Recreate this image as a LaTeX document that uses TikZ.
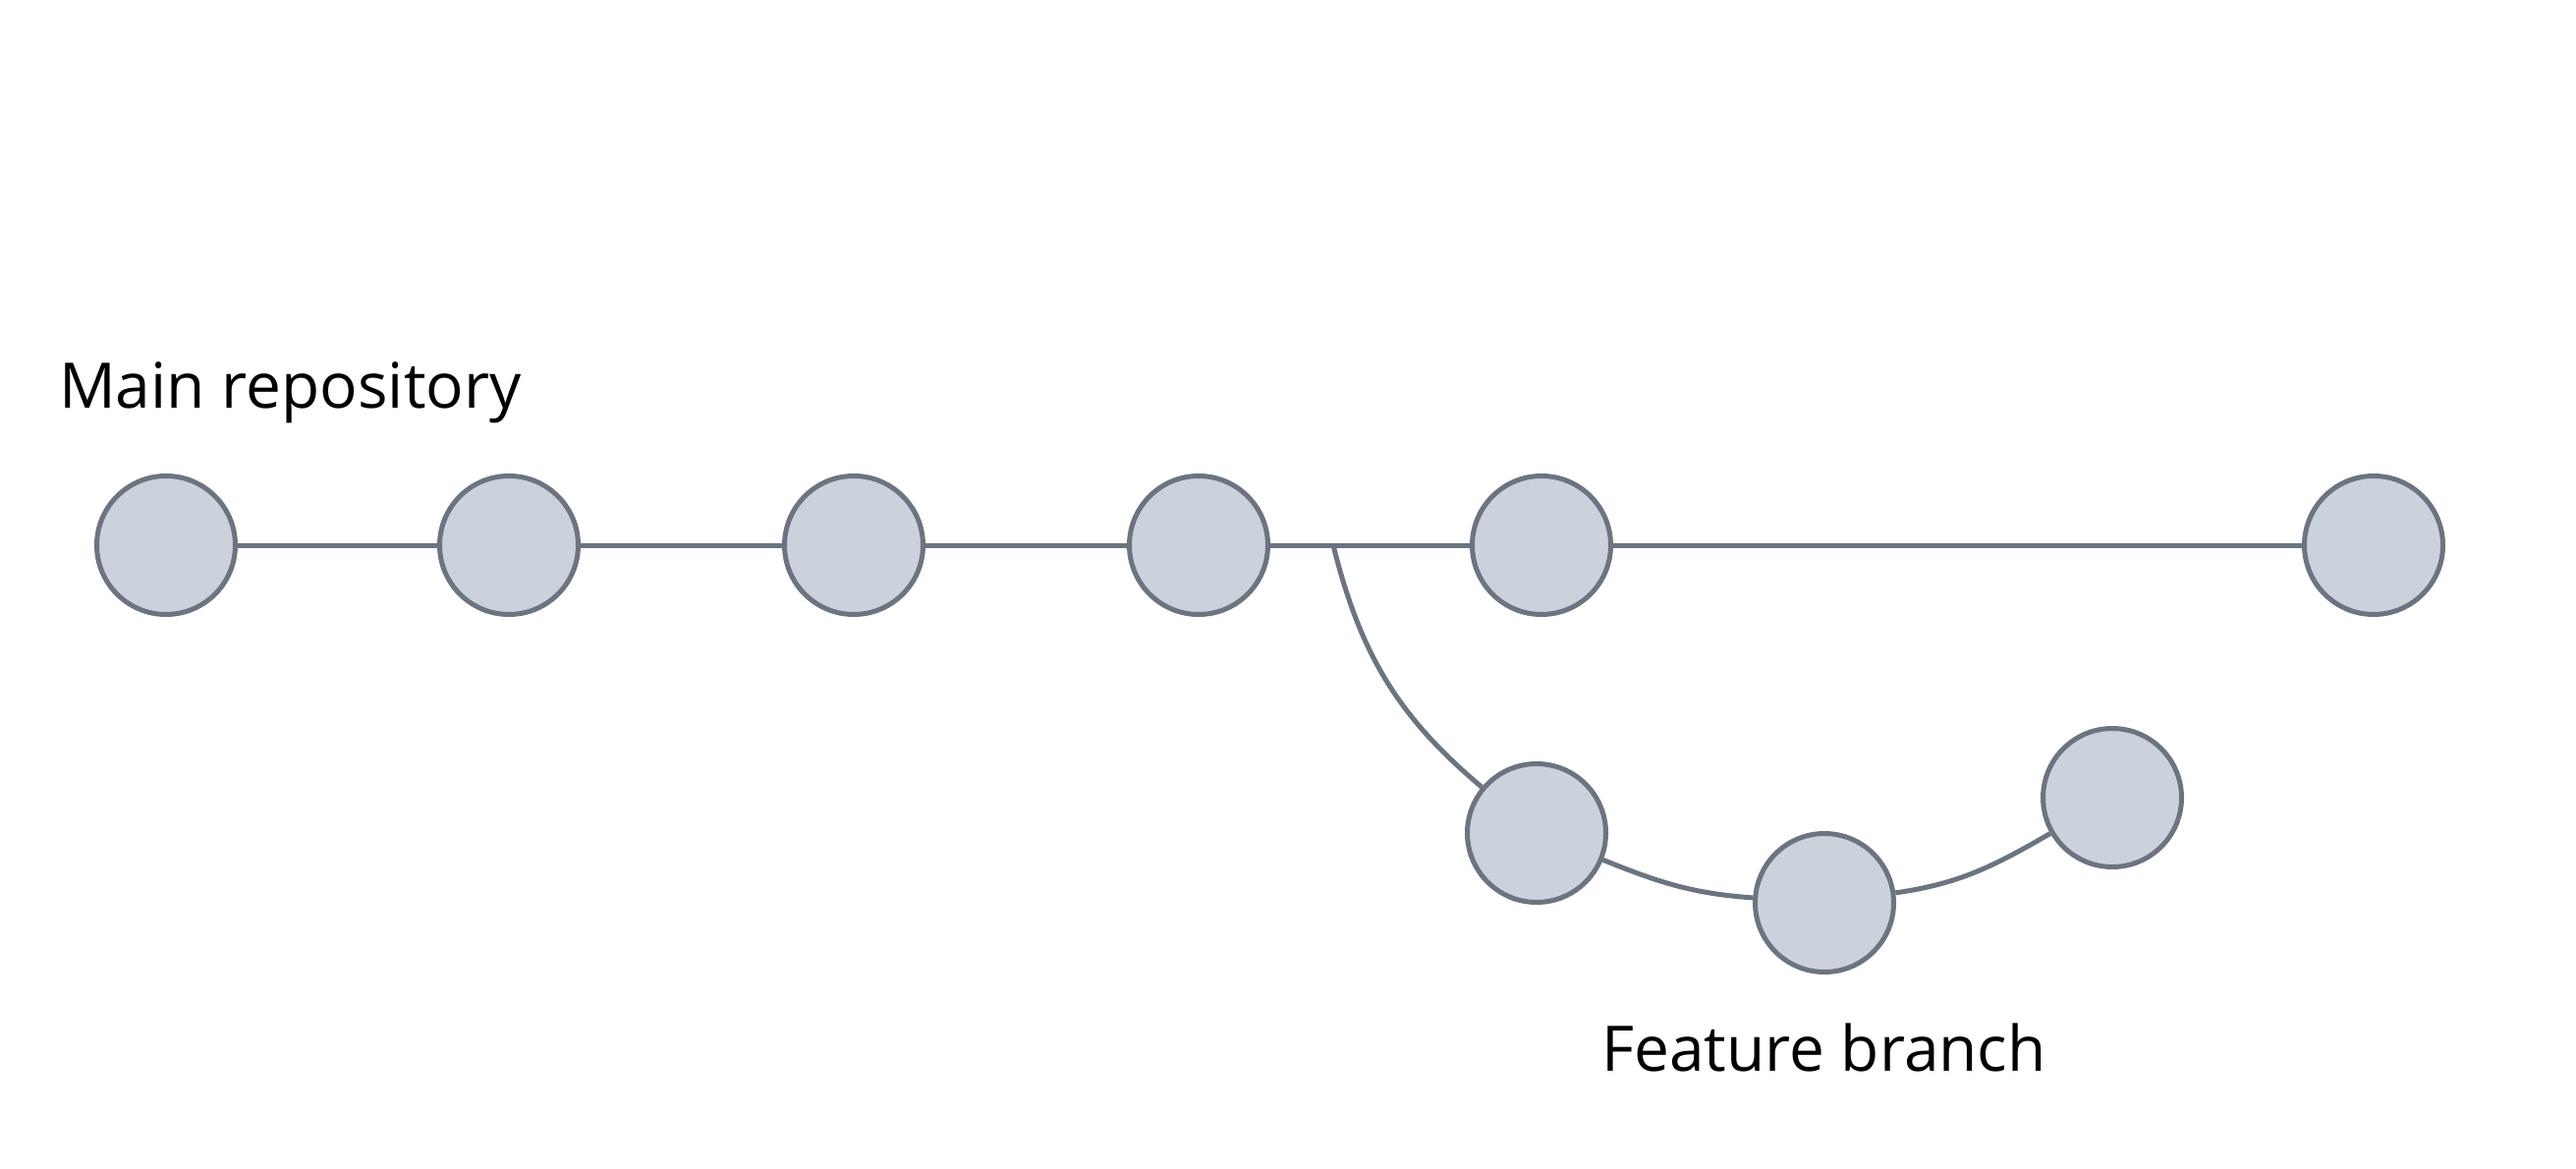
\documentclass[tikz,border=0pt]{standalone}
\usepackage{fontspec}
\setmainfont{Open Sans}
\definecolor{nodefill}{HTML}{CBD2DB}
\definecolor{linegray}{HTML}{6B7480}
\begin{document}
\begin{tikzpicture}[x=1pt,y=-1pt,
  commit/.style={circle,draw=linegray,fill=nodefill,line width=5pt,minimum size=141pt,inner sep=0pt},
  link/.style={draw=linegray,line width=5pt},
  lbl/.style={anchor=base west,inner sep=0pt,font=\fontsize{64}{70}\selectfont}]
\useasboundingbox (0,0) rectangle (2622,1190);
\node[commit] (m1) at (169,555) {};
\node[commit] (m2) at (518,555) {};
\node[commit] (m3) at (869,555) {};
\node[commit] (m4) at (1220,555) {};
\node[commit] (m5) at (1569,555) {};
\node[commit] (m6) at (2416,555) {};
\node[commit] (f1) at (1564,848) {};
\node[commit] (f2) at (1857,919) {};
\node[commit] (f3) at (2150,812) {};
\coordinate (br) at (1357,555);
\draw[link] (m1) -- (m2);
\draw[link] (m2) -- (m3);
\draw[link] (m3) -- (m4);
\draw[link] (m4) -- (m5);
\draw[link] (m5) -- (m6);
\draw[link] (br) to[out=-76,in=140] (f1);
\draw[link] (f1) to[out=-22,in=176] (f2);
\draw[link] (f2) to[out=8,in=-150] (f3);
\node[lbl] (mainlbl) at (60,415) {Main repository};
\node[lbl] (featlbl) at (1630,1090) {Feature branch};
\end{tikzpicture}
\end{document}
